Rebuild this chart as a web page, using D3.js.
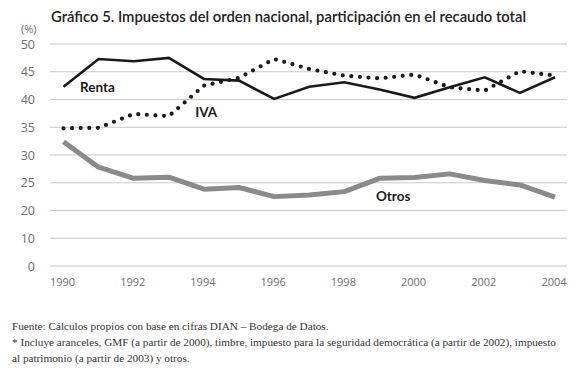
<!DOCTYPE html>
<html><head><meta charset="utf-8">
<script src="https://cdn.jsdelivr.net/npm/d3@7"></script>
<style>body{margin:0;background:#fff}svg{display:block}</style>
</head><body>
<svg id="c" width="580" height="371"></svg>
<script>
const years = [1990,1991,1992,1993,1994,1995,1996,1997,1998,1999,2000,2001,2002,2003,2004];
const renta = [42.3,47.3,46.9,47.5,43.7,43.4,40.1,42.3,43.1,41.8,40.3,42.2,44.0,41.2,44.0];
const iva   = [34.8,34.9,37.4,37.0,42.5,43.9,47.3,45.5,44.3,43.8,44.5,42.2,41.6,45.1,44.3];
const otros = [32.4,27.8,25.8,26.0,23.85,24.15,22.5,22.8,23.4,25.8,25.95,26.6,25.4,24.6,22.4];
const yTicks = [0,10,20,25,30,35,40,45,50];
const xTicks = [1990,1992,1994,1996,1998,2000,2002,2004];
const title = "Gráfico 5. Impuestos del orden nacional, participación en el recaudo total";
const notes = ["Fuente: Cálculos propios con base en cifras DIAN – Bodega de Datos.",
  "* Incluye aranceles, GMF (a partir de 2000), timbre, impuesto para la seguridad democrática (a partir de 2002), impuesto",
  "al patrimonio (a partir de 2003) y otros."];
const seriesLabels = [{t:"Renta",yr:1990.47,v:42.2},{t:"IVA",yr:1993.75,v:37.8},{t:"Otros",yr:1998.9,v:22.6}];

const svg = d3.select("#c");
const x = d3.scaleLinear().domain([1990,2004]).range([63.5,555]);
const y = d3.scaleLinear().domain(yTicks).range(yTicks.map((d,i)=>266 - i*27.75));

svg.append("g").selectAll("line").data(yTicks).join("line")
  .attr("x1",50).attr("x2",567).attr("y1",d=>y(d)).attr("y2",d=>y(d))
  .attr("stroke","#c8c8c8").attr("stroke-width",1.2);
svg.append("g").selectAll("text").data(yTicks).join("text")
  .attr("x",35).attr("y",d=>y(d)).attr("dy","0.36em").attr("text-anchor","end")
  .attr("font-family","Open Sans").attr("font-size",12.5).attr("fill","#6e6e6e").text(d=>d);
svg.append("text").attr("x",21).attr("y",29).attr("dy","0.36em")
  .attr("font-family","Open Sans").attr("font-size",11).attr("fill","#6e6e6e").text("(%)");
svg.append("g").selectAll("text").data(xTicks).join("text")
  .attr("x",d=>x(d)-1).attr("y",282).attr("dy","0.36em").attr("text-anchor","middle")
  .attr("font-family","Open Sans").attr("font-size",11).attr("fill","#6e6e6e").text(d=>d);

const line = arr => d3.line().x((d,i)=>x(years[i])).y(d=>y(d))(arr);
svg.append("path").attr("d",line(otros)).attr("fill","none").attr("stroke","#8a8a8a")
  .attr("stroke-width",5).attr("stroke-linejoin","round");
svg.append("path").attr("d",line(renta)).attr("fill","none").attr("stroke","#1a1a1a")
  .attr("stroke-width",2.6).attr("stroke-linejoin","miter");
svg.append("path").attr("d",line(iva)).attr("fill","none").attr("stroke","#1a1a1a")
  .attr("stroke-width",4.2).attr("stroke-linecap","round").attr("stroke-dasharray","0 8.6");

svg.append("g").selectAll("text").data(seriesLabels).join("text")
  .attr("x",d=>x(d.yr)).attr("y",d=>y(d.v)).attr("dy","0.36em")
  .attr("font-family","Lato").attr("font-weight",700).attr("font-size",13.5).attr("fill","#1a1a1a").text(d=>d.t);

svg.append("text").attr("x",51).attr("y",22).attr("font-family","Lato").attr("font-weight",600)
  .attr("font-size",15.5).attr("fill","#222").attr("textLength",475).attr("lengthAdjust","spacingAndGlyphs").text(title);

const noteSel = svg.append("g").attr("font-family","Liberation Serif").attr("font-size",12).attr("fill","#333")
  .selectAll("text").data(notes).join("text")
  .attr("x",12).attr("y",(d,i)=>329.5 + i*16).text(d=>d);
const natural = noteSel.nodes()[1].getComputedTextLength();
const fs = Math.min(12.5, 12*544/natural);
noteSel.attr("font-size",fs);
</script>
</body></html>
